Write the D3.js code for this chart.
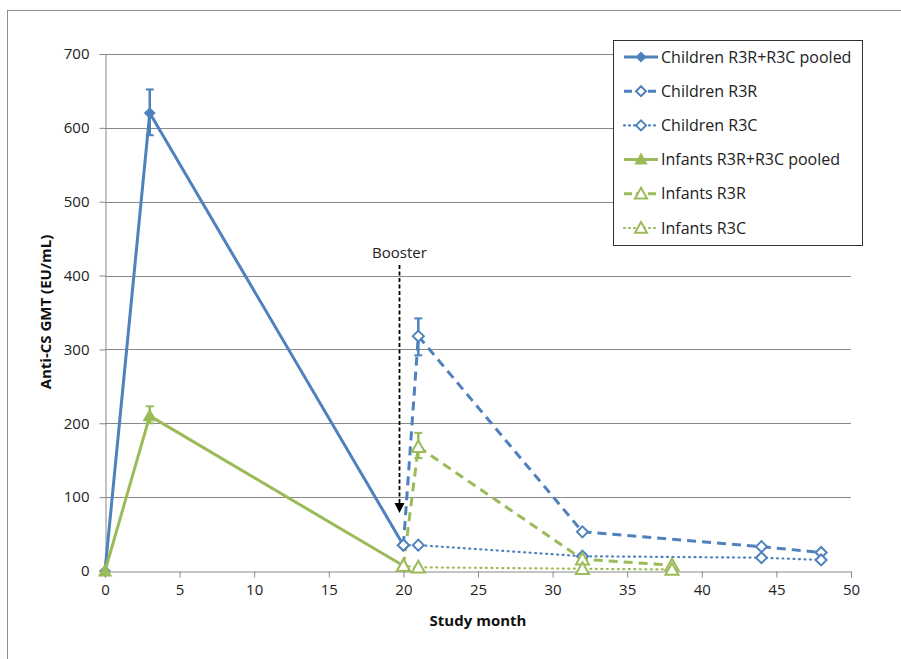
<!DOCTYPE html>
<html>
<head>
<meta charset="utf-8">
<script src="https://cdn.jsdelivr.net/npm/d3@7"></script>
<style>
  html, body { margin: 0; padding: 0; background: #fff; }
  svg { display: block; }
  text { font-family: "Open Sans", Lato, "Liberation Sans", sans-serif; }
</style>
</head>
<body>
<svg id="chart" width="901" height="659"></svg>
<script>
// Study months and GMT values per series
const childrenPooledX = [0, 3, 20];
const childrenPooledY = [0, 620, 35];
const childrenR3RX = [20, 21, 32, 44, 48];
const childrenR3RY = [35, 318, 53, 33, 25];
const childrenR3CX = [20, 21, 32, 44, 48];
const childrenR3CY = [35, 35, 20, 18, 15];
const infantsPooledX = [0, 3, 20];
const infantsPooledY = [0, 210, 7];
const infantsR3RX = [20, 21, 32, 38];
const infantsR3RY = [7, 168, 16, 8];
const infantsR3CX = [20, 21, 32, 38];
const infantsR3CY = [7, 5, 3, 2];

// Error bars: [month, low, high]
const childrenErr = [[3, 590, 652], [21, 292, 342]];
const infantsErr = [[3, 200, 223], [21, 153, 187]];

const xTicks = [0, 5, 10, 15, 20, 25, 30, 35, 40, 45, 50];
const yTicks = [0, 100, 200, 300, 400, 500, 600, 700];

const legendLabels = [
  "Children R3R+R3C pooled", "Children R3R", "Children R3C",
  "Infants R3R+R3C pooled", "Infants R3R", "Infants R3C"
];

const BLUE = "#4f81bd", GREEN = "#9bbb59";
const FONT = "15px";

const series = [
  { xs: childrenPooledX, ys: childrenPooledY, color: BLUE, dash: null, marker: "diamond", filled: true },
  { xs: childrenR3RX, ys: childrenR3RY, color: BLUE, dash: "9,6", marker: "diamond", filled: false },
  { xs: childrenR3CX, ys: childrenR3CY, color: BLUE, dash: "1,4.5", marker: "diamond", filled: false, thin: true },
  { xs: infantsPooledX, ys: infantsPooledY, color: GREEN, dash: null, marker: "triangle", filled: true },
  { xs: infantsR3RX, ys: infantsR3RY, color: GREEN, dash: "9,6", marker: "triangle", filled: false },
  { xs: infantsR3CX, ys: infantsR3CY, color: GREEN, dash: "1,4.5", marker: "triangle", filled: false, thin: true }
];

const svg = d3.select("#chart");

// outer chart frame
svg.append("rect").attr("x", 7.5).attr("y", 10.5).attr("width", 910).attr("height", 670)
  .attr("fill", "none").attr("stroke", "#8c8c8c").attr("stroke-width", 1);

const x = d3.scaleLinear().domain([0, 50]).range([105, 851]);
const y = d3.scaleLinear().domain([0, 700]).range([571, 54]);

// gridlines
svg.append("g").selectAll("line").data(yTicks.filter(d => d > 0)).join("line")
  .attr("x1", x(0)).attr("x2", x(50))
  .attr("y1", d => Math.round(y(d)) + 0.5).attr("y2", d => Math.round(y(d)) + 0.5)
  .attr("stroke", "#888").attr("stroke-width", 1);

// axes
const xAxis = svg.append("g").attr("transform", `translate(0,${Math.round(y(0)) + 0.5})`)
  .call(d3.axisBottom(x).tickValues(xTicks).tickSize(6).tickPadding(7));
const yAxis = svg.append("g").attr("transform", `translate(${Math.round(x(0)) + 0.5},0)`)
  .call(d3.axisLeft(y).tickValues(yTicks).tickSize(6).tickPadding(10));
[xAxis, yAxis].forEach(g => {
  g.select(".domain").attr("stroke", "#888");
  g.selectAll(".tick line").attr("stroke", "#888");
  g.selectAll(".tick text").attr("fill", "#222").style("font-size", FONT)
    .style("font-family", "'Open Sans', Lato, sans-serif");
});

// axis titles
svg.append("text").attr("x", x(25)).attr("y", 626).attr("text-anchor", "middle")
  .style("font-size", FONT).style("font-weight", "bold").attr("fill", "#111")
  .text("Study month");
svg.append("text").attr("transform", "translate(51,312) rotate(-90)").attr("text-anchor", "middle")
  .style("font-size", FONT).style("font-weight", "bold").attr("fill", "#111")
  .text("Anti-CS GMT (EU/mL)");

// markers
function drawMarker(g, type, filled, color, cx, cy, size) {
  if (type === "diamond") {
    const r = size;
    g.append("path")
      .attr("d", `M${cx},${cy - r}L${cx + r},${cy}L${cx},${cy + r}L${cx - r},${cy}Z`)
      .attr("fill", filled ? color : "#fff").attr("stroke", color).attr("stroke-width", 2);
  } else {
    const r = size + 1;
    g.append("path")
      .attr("d", `M${cx},${cy - r}L${cx + r},${cy + r * 0.8}L${cx - r},${cy + r * 0.8}Z`)
      .attr("fill", filled ? color : "#fff").attr("stroke", color).attr("stroke-width", 2);
  }
}

// error bars
function drawErr(data, color) {
  const g = svg.append("g");
  data.forEach(([m, lo, hi]) => {
    const cx = x(m);
    g.append("line").attr("x1", cx).attr("x2", cx).attr("y1", y(lo)).attr("y2", y(hi))
      .attr("stroke", color).attr("stroke-width", 2.5);
    [lo, hi].forEach(v => g.append("line").attr("x1", cx - 4).attr("x2", cx + 4)
      .attr("y1", y(v)).attr("y2", y(v)).attr("stroke", color).attr("stroke-width", 2));
  });
}

const line = d3.line().x(d => x(d[0])).y(d => y(d[1]));

// lines first, then markers, pooled series underneath
series.forEach(s => {
  const pts = s.xs.map((v, i) => [v, s.ys[i]]);
  svg.append("path").attr("d", line(pts)).attr("fill", "none")
    .attr("stroke", s.color).attr("stroke-width", s.thin ? 2.2 : 3)
    .attr("stroke-dasharray", s.dash).attr("stroke-linecap", s.thin ? "round" : "butt")
    .attr("stroke-linejoin", "round");
});
drawErr(infantsErr, GREEN);
drawErr(childrenErr, BLUE);
series.forEach(s => {
  const g = svg.append("g");
  s.xs.forEach((v, i) => drawMarker(g, s.marker, s.filled, s.color, x(v), y(s.ys[i]), s.filled ? 4.5 : 5.5));
});

// booster annotation
const bx = 399.5;
svg.append("text").attr("x", bx).attr("y", 258).attr("text-anchor", "middle")
  .style("font-size", FONT).attr("fill", "#222").text("Booster");
svg.append("line").attr("x1", bx).attr("x2", bx).attr("y1", 265).attr("y2", 505)
  .attr("stroke", "#000").attr("stroke-width", 1.8).attr("stroke-dasharray", "4,2.5");
svg.append("path").attr("d", `M${bx - 5},503L${bx + 5},503L${bx},513Z`).attr("fill", "#000");

// legend
const lg = svg.append("g");
lg.append("rect").attr("x", 613.5).attr("y", 40.5).attr("width", 249).attr("height", 205)
  .attr("fill", "#fff").attr("stroke", "#333").attr("stroke-width", 1);
legendLabels.forEach((lab, i) => {
  const s = series[i];
  const ly = 57 + i * 34.2;
  const row = lg.append("g");
  row.append("line").attr("x1", 624).attr("x2", 658).attr("y1", ly).attr("y2", ly)
    .attr("stroke", s.color).attr("stroke-width", s.thin ? 2.2 : 3)
    .attr("stroke-dasharray", s.dash ? (s.thin ? "1,4" : "8,4") : null)
    .attr("stroke-linecap", s.thin ? "round" : "butt");
  drawMarker(row, s.marker, s.filled, s.color, 641, ly, s.filled ? 4 : 5);
  row.append("text").attr("x", 661).attr("y", ly + 5.5).style("font-size", "16px")
    .attr("fill", "#222").text(lab);
});
</script>
</body>
</html>
